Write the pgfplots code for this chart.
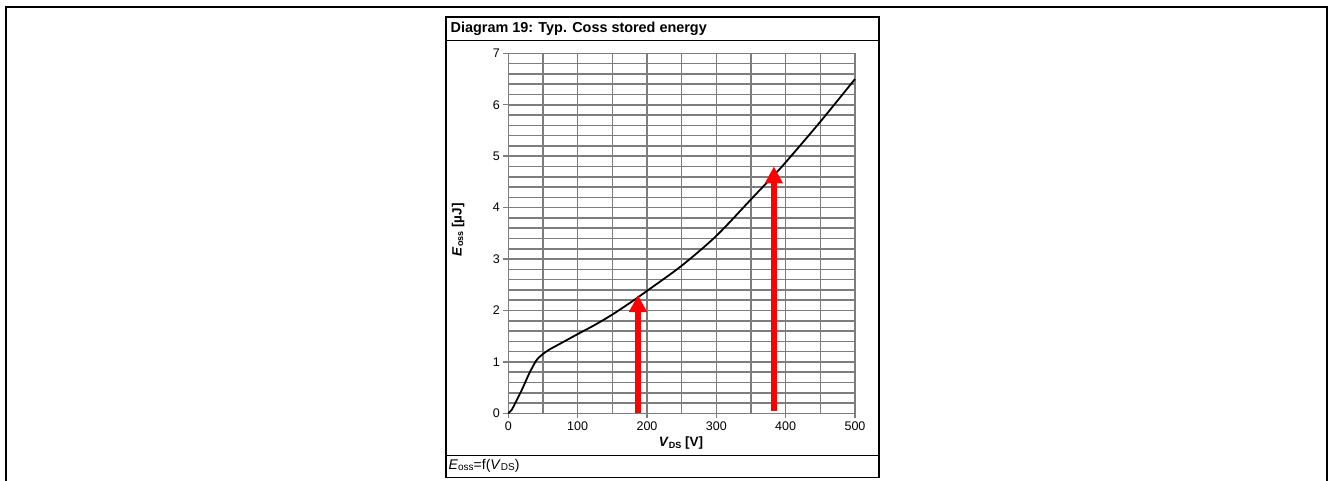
\documentclass[border=0pt]{standalone}
\usepackage{fontspec}
\setmainfont{Liberation Sans}
\usepackage{pgfplots}
\pgfplotsset{compat=1.18}
\usetikzlibrary{arrows.meta}
\definecolor{gridgray}{RGB}{125,125,125}
\newcommand{\sub}[1]{\raisebox{-0.12em}{\fontsize{9}{10}\selectfont #1}}
\begin{document}
\begin{tikzpicture}[x=1pt,y=1pt]
\useasboundingbox (0,0) rectangle (1332,480);
\draw[line width=2pt] (6,-2) -- (6,473) -- (1327,473) -- (1327,-2);
\draw[line width=1.5pt] (446,2.5) rectangle (879,463);
\draw[line width=1.5pt] (446,439.3) -- (879,439.3);
\draw[line width=1.5pt] (446,24.5) -- (879,24.5);
\node[anchor=west, inner sep=0pt, font=\fontsize{14.4}{16}\selectfont\bfseries] at (450.5,451) {Diagram 19: Typ. Coss stored energy};
\node[anchor=west, inner sep=0pt, font=\fontsize{14}{16}\selectfont] at (448.5,14) {\textit{E}{\fontsize{10}{11}\selectfont\raisebox{-0.12em}{oss}}=f(\textit{V}{\fontsize{10}{11}\selectfont\raisebox{-0.12em}{DS}})};
\begin{axis}[
  at={(508.3pt,66.7pt)}, anchor=south west,
  scale only axis, width=346.7pt, height=360pt,
  xmin=0, xmax=500, ymin=0, ymax=7,
  xtick={0,100,...,500}, minor xtick={50,150,...,450},
  ytick={0,1,...,7}, minor ytick={0.2,0.4,0.6,0.8,1.2,1.4,1.6,1.8,2.2,2.4,2.6,2.8,3.2,3.4,3.6,3.8,4.2,4.4,4.6,4.8,5.2,5.4,5.6,5.8,6.2,6.4,6.6,6.8},
  grid=both,
  major grid style={gridgray, line width=1.6pt},
  minor grid style={gridgray, line width=1.6pt},
  axis line style={gridgray, line width=1.6pt},
  tick pos=left,
  tick align=outside,
  major tick length=5pt, minor tick length=0pt,
  tick style={gridgray, line width=1.4pt},
  /pgf/number format/assume math mode=true,
  ticklabel style={font=\fontsize{12.5}{14}\selectfont},
  xlabel={\textbf{\textit{V}\sub{DS} [V]}},
  ylabel={\textbf{\textit{E}\sub{oss} [µJ]}},
  every axis x label/.style={at={(axis description cs:0.498,-0.083)}, anchor=center, font=\fontsize{13.5}{15}\selectfont\bfseries},
  every axis y label/.style={at={(axis description cs:-0.145,0.51)}, rotate=90, anchor=center, font=\fontsize{13.5}{15}\selectfont\bfseries},
  clip=false,
]
\addplot[black, line width=1.8pt, smooth, tension=0.5] coordinates {
 (0,0) (5,0.07) (10,0.2) (20,0.47) (30,0.77) (40,1.02) (47,1.12) (58,1.23)
 (77,1.37) (100,1.54) (125,1.72) (150,1.92) (178,2.17) (200,2.38) (250,2.87)
 (300,3.45) (350,4.16) (383,4.63) (400,4.88) (450,5.67) (500,6.5)
};
\addplot[red, line width=5.5pt, -{Triangle[width=17pt,length=17pt]}] coordinates {(187,0) (187,2.3)};
\addplot[red, line width=5.5pt, -{Triangle[width=17pt,length=17pt]}] coordinates {(383,0.05) (383,4.8)};
\end{axis}
\end{tikzpicture}
\end{document}
